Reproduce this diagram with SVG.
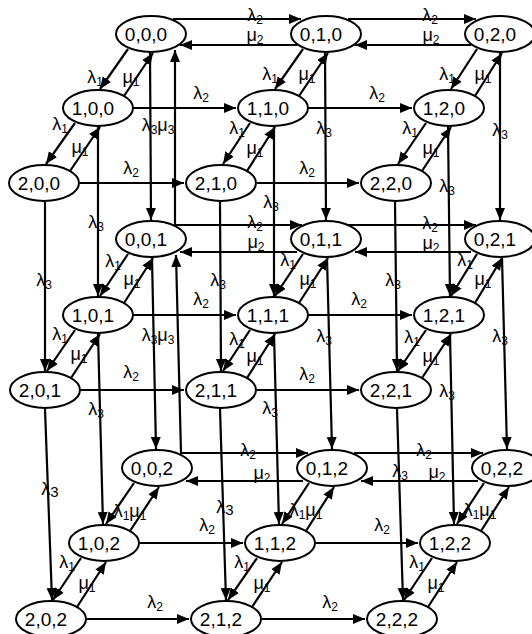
<svg xmlns="http://www.w3.org/2000/svg" width="532" height="634" viewBox="0 0 532 634">
<defs>
<marker id="ah" markerUnits="userSpaceOnUse" markerWidth="13" markerHeight="11" refX="12" refY="5" orient="auto"><path d="M0,0 L12,5 L0,10 z" fill="#000"/></marker>
<style>
.n ellipse{fill:#fff;stroke:#000;stroke-width:2}
.n text{font-family:"Liberation Sans",Arial,sans-serif;font-size:19px;text-anchor:middle;fill:#000}
#connectors path{stroke:#000;stroke-width:2.2;fill:none;marker-end:url(#ah)}
#labels text{font-family:"Liberation Sans",Arial,sans-serif;font-size:18px;text-anchor:middle;fill:#000}
#labels .s{font-size:12px}
#labels .b{font-size:15px}
</style>
</defs>
<rect width="532" height="634" fill="#fff"/>
<g id="connectors">
<path d="M173,19 L301,19"/>
<path d="M348,19 L476,19"/>
<path d="M471,45 L355,45"/>
<path d="M297,45 L180,45"/>
<path d="M133,108 L236,108"/>
<path d="M308,108 L412,108"/>
<path d="M80,183 L184,183"/>
<path d="M257,183 L359,183"/>
<path d="M175,225 L302,225"/>
<path d="M348,225 L476,225"/>
<path d="M471,252 L355,252"/>
<path d="M297,252 L180,252"/>
<path d="M133,315 L236,315"/>
<path d="M308,315 L412,315"/>
<path d="M81,390 L184,390"/>
<path d="M257,390 L359,390"/>
<path d="M180,453 L308,453"/>
<path d="M354,453 L483,453"/>
<path d="M478,481 L361,481"/>
<path d="M303,481 L186,481"/>
<path d="M139,543 L243,543"/>
<path d="M315,543 L418,543"/>
<path d="M87,619 L189,619"/>
<path d="M262,619 L365,619"/>
<path d="M128,49 L100,89"/><path d="M124,96 L153,53"/>
<path d="M75,123 L46,164"/><path d="M70,171 L100,127"/>
<path d="M303,49 L275,89"/><path d="M299,96 L328,53"/>
<path d="M250,123 L223,164"/><path d="M247,171 L275,127"/>
<path d="M477,49 L451,89"/><path d="M475,96 L502,53"/>
<path d="M426,123 L398,164"/><path d="M422,171 L451,127"/>
<path d="M128,254 L100,296"/><path d="M124,303 L153,258"/>
<path d="M75,330 L47,371"/><path d="M71,378 L100,334"/>
<path d="M303,254 L275,296"/><path d="M299,303 L328,258"/>
<path d="M250,330 L223,371"/><path d="M247,378 L275,334"/>
<path d="M477,254 L451,296"/><path d="M475,303 L502,258"/>
<path d="M426,330 L398,371"/><path d="M422,378 L451,334"/>
<path d="M134,483 L106,524"/><path d="M130,531 L159,487"/>
<path d="M81,558 L53,600"/><path d="M77,607 L106,562"/>
<path d="M309,483 L282,524"/><path d="M306,531 L334,487"/>
<path d="M257,558 L228,600"/><path d="M252,607 L282,562"/>
<path d="M484,483 L457,524"/><path d="M481,531 L509,487"/>
<path d="M432,558 L404,600"/><path d="M428,607 L457,562"/>
<path d="M150,52 L151,220"/>
<path d="M175,225 L175,50"/>
<path d="M98,127 L98,296"/>
<path d="M45,202 L45,371"/>
<path d="M325,52 L326,220"/>
<path d="M274,127 L274,296"/>
<path d="M220,202 L221,371"/>
<path d="M500,52 L500,220"/>
<path d="M448,127 L450,296"/>
<path d="M395,202 L397,371"/>
<path d="M152,258 L156,449"/>
<path d="M181,453 L176,255"/>
<path d="M98,334 L103,524"/>
<path d="M45,409 L52,600"/>
<path d="M327,258 L332,449"/>
<path d="M274,334 L279,524"/>
<path d="M220,409 L226,600"/>
<path d="M502,258 L507,449"/>
<path d="M450,334 L454,524"/>
<path d="M397,409 L403,600"/>
</g>
<g id="labels">
<text x="255" y="21">λ<tspan class="s" dy="3">2</tspan></text>
<text x="430" y="21">λ<tspan class="s" dy="3">2</tspan></text>
<text x="255" y="41">μ<tspan class="s" dy="3">2</tspan></text>
<text x="431" y="41">μ<tspan class="s" dy="3">2</tspan></text>
<text x="95" y="83">λ<tspan class="s" dy="3">1</tspan></text>
<text x="131" y="83">μ<tspan class="s" dy="3">1</tspan></text>
<text x="60" y="130">λ<tspan class="s" dy="3">1</tspan></text>
<text x="80" y="153">μ<tspan class="s" dy="3">1</tspan></text>
<text x="270" y="80">λ<tspan class="s" dy="3">1</tspan></text>
<text x="307" y="80">μ<tspan class="s" dy="3">1</tspan></text>
<text x="447" y="80">λ<tspan class="s" dy="3">1</tspan></text>
<text x="483" y="80">μ<tspan class="s" dy="3">1</tspan></text>
<text x="237" y="134">λ<tspan class="s" dy="3">1</tspan></text>
<text x="255" y="154">μ<tspan class="s" dy="3">1</tspan></text>
<text x="410" y="134">λ<tspan class="s" dy="3">1</tspan></text>
<text x="431" y="154">μ<tspan class="s" dy="3">1</tspan></text>
<text x="201" y="99">λ<tspan class="s" dy="3">2</tspan></text>
<text x="377" y="99">λ<tspan class="s" dy="3">2</tspan></text>
<text x="131" y="174">λ<tspan class="s" dy="3">2</tspan></text>
<text x="307" y="174">λ<tspan class="s" dy="3">2</tspan></text>
<text x="158" y="131">λ<tspan class="s" dy="3">3</tspan><tspan dy="-3">μ</tspan><tspan class="s" dy="3">3</tspan></text>
<text x="96" y="228">λ<tspan class="s" dy="3">3</tspan></text>
<text x="44" y="286">λ<tspan class="s" dy="3">3</tspan></text>
<text x="324" y="134">λ<tspan class="s" dy="3">3</tspan></text>
<text x="271" y="208">λ<tspan class="s" dy="3">3</tspan></text>
<text x="218" y="286">λ<tspan class="s" dy="3">3</tspan></text>
<text x="500" y="136">λ<tspan class="s" dy="3">3</tspan></text>
<text x="447" y="192">λ<tspan class="s" dy="3">3</tspan></text>
<text x="393" y="286">λ<tspan class="s" dy="3">3</tspan></text>
<text x="255" y="228">λ<tspan class="s" dy="3">2</tspan></text>
<text x="430" y="229">λ<tspan class="s" dy="3">2</tspan></text>
<text x="256" y="248">μ<tspan class="s" dy="3">2</tspan></text>
<text x="431" y="249">μ<tspan class="s" dy="3">2</tspan></text>
<text x="113" y="267">λ<tspan class="s" dy="3">1</tspan></text>
<text x="132" y="285">μ<tspan class="s" dy="3">1</tspan></text>
<text x="60" y="340">λ<tspan class="s" dy="3">1</tspan></text>
<text x="79" y="360">μ<tspan class="s" dy="3">1</tspan></text>
<text x="288" y="266">λ<tspan class="s" dy="3">1</tspan></text>
<text x="308" y="285">μ<tspan class="s" dy="3">1</tspan></text>
<text x="465" y="266">λ<tspan class="s" dy="3">1</tspan></text>
<text x="483" y="285">μ<tspan class="s" dy="3">1</tspan></text>
<text x="237" y="345">λ<tspan class="s" dy="3">1</tspan></text>
<text x="255" y="362">μ<tspan class="s" dy="3">1</tspan></text>
<text x="412" y="343">λ<tspan class="s" dy="3">1</tspan></text>
<text x="431" y="362">μ<tspan class="s" dy="3">1</tspan></text>
<text x="201" y="305">λ<tspan class="s" dy="3">2</tspan></text>
<text x="359" y="305">λ<tspan class="s" dy="3">2</tspan></text>
<text x="131" y="378">λ<tspan class="s" dy="3">2</tspan></text>
<text x="307" y="380">λ<tspan class="s" dy="3">2</tspan></text>
<text x="158" y="341">λ<tspan class="s" dy="3">3</tspan><tspan dy="-3">μ</tspan><tspan class="s" dy="3">3</tspan></text>
<text x="96" y="415">λ<tspan class="s" dy="3">3</tspan></text>
<text x="50" y="495">λ<tspan class="b" dy="2">3</tspan></text>
<text x="324" y="342">λ<tspan class="s" dy="3">3</tspan></text>
<text x="270" y="414">λ<tspan class="s" dy="3">3</tspan></text>
<text x="225" y="513">λ<tspan class="b" dy="2">3</tspan></text>
<text x="500" y="342">λ<tspan class="s" dy="3">3</tspan></text>
<text x="447" y="397">λ<tspan class="s" dy="3">3</tspan></text>
<text x="400" y="477">λ<tspan class="s" dy="3">3</tspan></text>
<text x="248" y="456">λ<tspan class="s" dy="3">2</tspan></text>
<text x="424" y="456">λ<tspan class="s" dy="3">2</tspan></text>
<text x="262" y="479">μ<tspan class="s" dy="3">2</tspan></text>
<text x="437" y="478">μ<tspan class="s" dy="3">2</tspan></text>
<text x="130" y="517">λ<tspan class="s" dy="3">1</tspan><tspan dy="-3">μ</tspan><tspan class="s" dy="3">1</tspan></text>
<text x="306" y="516">λ<tspan class="s" dy="3">1</tspan><tspan dy="-3">μ</tspan><tspan class="s" dy="3">1</tspan></text>
<text x="480" y="516">λ<tspan class="s" dy="3">1</tspan><tspan dy="-3">μ</tspan><tspan class="s" dy="3">1</tspan></text>
<text x="207" y="531">λ<tspan class="s" dy="3">2</tspan></text>
<text x="382" y="531">λ<tspan class="s" dy="3">2</tspan></text>
<text x="67" y="568">λ<tspan class="s" dy="3">1</tspan></text>
<text x="87" y="589">μ<tspan class="s" dy="3">1</tspan></text>
<text x="242" y="568">λ<tspan class="s" dy="3">1</tspan></text>
<text x="262" y="589">μ<tspan class="s" dy="3">1</tspan></text>
<text x="417" y="568">λ<tspan class="s" dy="3">1</tspan></text>
<text x="436" y="589">μ<tspan class="s" dy="3">1</tspan></text>
<text x="155" y="608">λ<tspan class="s" dy="3">2</tspan></text>
<text x="330" y="608">λ<tspan class="s" dy="3">2</tspan></text>
</g>
<g id="n000" class="n"><ellipse cx="151" cy="34" rx="35" ry="18"/><text x="146" y="41">0,0,0</text></g>
<g id="n010" class="n"><ellipse cx="326" cy="34" rx="35" ry="18"/><text x="321" y="41">0,1,0</text></g>
<g id="n020" class="n"><ellipse cx="500" cy="34" rx="35" ry="18"/><text x="495" y="41">0,2,0</text></g>
<g id="n100" class="n"><ellipse cx="98" cy="108" rx="35" ry="18"/><text x="93" y="115">1,0,0</text></g>
<g id="n110" class="n"><ellipse cx="273" cy="108" rx="35" ry="18"/><text x="268" y="115">1,1,0</text></g>
<g id="n120" class="n"><ellipse cx="449" cy="108" rx="35" ry="18"/><text x="444" y="115">1,2,0</text></g>
<g id="n200" class="n"><ellipse cx="44" cy="183" rx="35" ry="18"/><text x="39" y="190">2,0,0</text></g>
<g id="n210" class="n"><ellipse cx="221" cy="183" rx="35" ry="18"/><text x="216" y="190">2,1,0</text></g>
<g id="n220" class="n"><ellipse cx="396" cy="183" rx="35" ry="18"/><text x="391" y="190">2,2,0</text></g>
<g id="n001" class="n"><ellipse cx="151" cy="239" rx="35" ry="18"/><text x="146" y="246">0,0,1</text></g>
<g id="n011" class="n"><ellipse cx="326" cy="239" rx="35" ry="18"/><text x="321" y="246">0,1,1</text></g>
<g id="n021" class="n"><ellipse cx="500" cy="239" rx="35" ry="18"/><text x="495" y="246">0,2,1</text></g>
<g id="n101" class="n"><ellipse cx="98" cy="315" rx="35" ry="18"/><text x="93" y="322">1,0,1</text></g>
<g id="n111" class="n"><ellipse cx="273" cy="315" rx="35" ry="18"/><text x="268" y="322">1,1,1</text></g>
<g id="n121" class="n"><ellipse cx="449" cy="315" rx="35" ry="18"/><text x="444" y="322">1,2,1</text></g>
<g id="n201" class="n"><ellipse cx="45" cy="390" rx="35" ry="18"/><text x="40" y="397">2,0,1</text></g>
<g id="n211" class="n"><ellipse cx="221" cy="390" rx="35" ry="18"/><text x="216" y="397">2,1,1</text></g>
<g id="n221" class="n"><ellipse cx="396" cy="390" rx="35" ry="18"/><text x="391" y="397">2,2,1</text></g>
<g id="n002" class="n"><ellipse cx="157" cy="468" rx="35" ry="18"/><text x="152" y="475">0,0,2</text></g>
<g id="n012" class="n"><ellipse cx="332" cy="468" rx="35" ry="18"/><text x="327" y="475">0,1,2</text></g>
<g id="n022" class="n"><ellipse cx="507" cy="468" rx="35" ry="18"/><text x="502" y="475">0,2,2</text></g>
<g id="n102" class="n"><ellipse cx="104" cy="543" rx="35" ry="18"/><text x="99" y="550">1,0,2</text></g>
<g id="n112" class="n"><ellipse cx="280" cy="543" rx="35" ry="18"/><text x="275" y="550">1,1,2</text></g>
<g id="n122" class="n"><ellipse cx="455" cy="543" rx="35" ry="18"/><text x="450" y="550">1,2,2</text></g>
<g id="n202" class="n"><ellipse cx="51" cy="619" rx="35" ry="18"/><text x="46" y="626">2,0,2</text></g>
<g id="n212" class="n"><ellipse cx="226" cy="619" rx="35" ry="18"/><text x="221" y="626">2,1,2</text></g>
<g id="n222" class="n"><ellipse cx="402" cy="619" rx="35" ry="18"/><text x="397" y="626">2,2,2</text></g>
</svg>
